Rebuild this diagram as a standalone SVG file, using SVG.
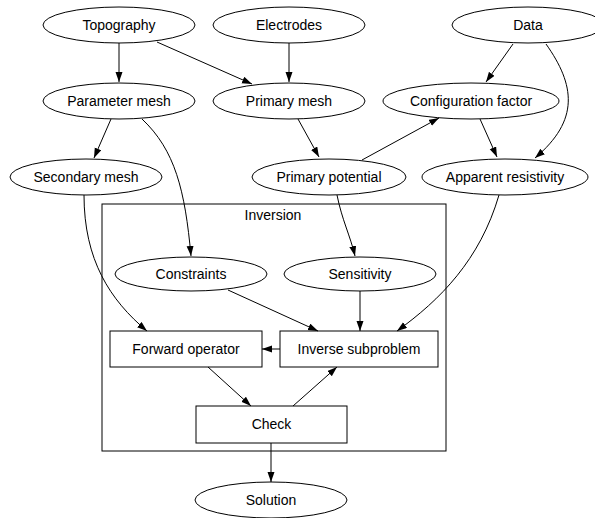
<svg xmlns="http://www.w3.org/2000/svg" width="595" height="518" viewBox="0 0 595 518">
<style>
.n ellipse, .n rect { fill: none; stroke: #000; stroke-width: 1; }
text { font-family: "Liberation Sans", Arial, sans-serif; font-size: 14px; text-anchor: middle; fill: #000; }
.e path { fill: none; stroke: #000; stroke-width: 1; marker-end: url(#arr); }
.cl { fill: none; stroke: #000; stroke-width: 1; }
</style>
<defs>
<marker id="arr" markerUnits="userSpaceOnUse" markerWidth="11" markerHeight="8" refX="10" refY="3.5" orient="auto">
<path d="M0,0 L10,3.5 L0,7 z" fill="#000"/>
</marker>
</defs>
<rect width="595" height="518" fill="#fff"/>
<g id="cluster_inversion">
<rect class="cl" x="102" y="204" width="344" height="247"/>
<text x="273" y="220">Inversion</text>
</g>
<g id="topography" class="n"><ellipse cx="119" cy="25" rx="76" ry="18"/><text x="119" y="30">Topography</text></g>
<g id="electrodes" class="n"><ellipse cx="289" cy="25" rx="76" ry="18"/><text x="289" y="30">Electrodes</text></g>
<g id="data" class="n"><ellipse cx="528" cy="25" rx="76" ry="18"/><text x="528" y="30">Data</text></g>
<g id="parameter_mesh" class="n"><ellipse cx="119" cy="101" rx="76" ry="18"/><text x="119" y="106">Parameter mesh</text></g>
<g id="primary_mesh" class="n"><ellipse cx="289" cy="101" rx="76" ry="18"/><text x="289" y="106">Primary mesh</text></g>
<g id="configuration_factor" class="n"><ellipse cx="471" cy="101" rx="88" ry="18"/><text x="471" y="106">Configuration factor</text></g>
<g id="secondary_mesh" class="n"><ellipse cx="86" cy="177" rx="76" ry="18"/><text x="86" y="182">Secondary mesh</text></g>
<g id="primary_potential" class="n"><ellipse cx="329" cy="177" rx="77" ry="18"/><text x="329" y="182">Primary potential</text></g>
<g id="apparent_resistivity" class="n"><ellipse cx="505" cy="177" rx="83" ry="18"/><text x="505" y="182">Apparent resistivity</text></g>
<g id="constraints" class="n"><ellipse cx="191" cy="274" rx="76" ry="17"/><text x="191" y="279">Constraints</text></g>
<g id="sensitivity" class="n"><ellipse cx="360" cy="274" rx="76" ry="17"/><text x="360" y="279">Sensitivity</text></g>
<g id="forward_operator" class="n"><rect x="110" y="331" width="152" height="36"/><text x="186" y="354">Forward operator</text></g>
<g id="inverse_subproblem" class="n"><rect x="280" y="331" width="158" height="36"/><text x="359" y="354">Inverse subproblem</text></g>
<g id="check" class="n"><rect x="196" y="406" width="151" height="37"/><text x="271.5" y="429">Check</text></g>
<g id="solution" class="n"><ellipse cx="271" cy="500" rx="76" ry="18"/><text x="271" y="505">Solution</text></g>
<g id="edges" class="e">
<path d="M119,43 L119,82"/>
<path d="M157,42 L252,84"/>
<path d="M289,43 L289,82"/>
<path d="M513,44 L486,82"/>
<path d="M546,44 C575,85 580,120 535,158"/>
<path d="M298,119 L319,157"/>
<path d="M111,119 L94,158"/>
<path d="M142,119 C175,150 185,190 191,256"/>
<path d="M362,160 L439,118"/>
<path d="M480,119 L497,157"/>
<path d="M337,195 C342,220 350,235 355,256"/>
<path d="M84,195 C84,260 110,300 147,331"/>
<path d="M499,195 C480,260 440,300 397,331"/>
<path d="M228,290 L318,331"/>
<path d="M360,291 L360,331"/>
<path d="M280,349 L262,349"/>
<path d="M208,367 L251,406"/>
<path d="M293,406 L337,367"/>
<path d="M271,443 L271,482"/>
</g>
</svg>
